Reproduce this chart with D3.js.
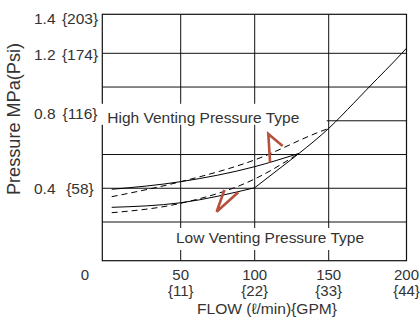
<!DOCTYPE html>
<html><head><meta charset="utf-8">
<script src="https://cdn.jsdelivr.net/npm/d3@7"></script>
<style>body{margin:0;background:#fff}svg{display:block}text{font-family:"Liberation Sans",Arial,sans-serif;fill:#333}</style>
</head><body><svg id="c" width="420" height="320"></svg>
<script>
// ---- data ----
const flowTicks = [50, 100, 150, 200];
const flowLabels = ["50", "100", "150", "200"];
const gpmLabels = ["{11}", "{22}", "{33}", "{44}"];
const gridFlow = [50, 100, 150];
const gridPressure = [0.2, 0.4, 0.6, 0.8, 1.0, 1.2];
const mpaValues = [1.4, 1.2, 0.8, 0.4];
const mpaLabels = ["1.4", "1.2", "0.8", "0.4"];
const psiLabels = ["{203}", "{174}", "{116}", "{58}"];
const highSolid = [[6, 0.394], [50, 0.439], [100, 0.528], [130, 0.607]];
const highDashed = [[6, 0.350], [50, 0.439], [100, 0.568], [144, 0.735], [150, 0.755]];
const lowSolid = [[6, 0.287], [50, 0.314], [100, 0.403]];
const lowDashed = [[6, 0.255], [50, 0.311], [100, 0.455], [130, 0.607]];
const mainCurve = [[100, 0.403], [115, 0.505], [130, 0.607], [150, 0.755], [166, 0.904], [176, 1.0], [197, 1.2], [200, 1.226]];
const arrowHigh = [[118.9, 0.650], [109.2, 0.722], [110.4, 0.552]];
const arrowLow = [[88.9, 0.376], [74.3, 0.261], [79.5, 0.390]];

// ---- drawing ----
const svg = d3.select("#c");
const x = d3.scaleLinear().domain([0, 50, 150, 200]).range([102.3, 180.7, 328.7, 406.5]);
const y = d3.scaleLinear().domain([0, 0.2, 1.2, 1.4]).range([260.7, 222, 53.3, 14.3]);
const [x0, x1] = [x(0), x(200)];
const [y0, y1] = [y(0), y(1.4)];

const g = svg.append("g");
g.selectAll(".vg").data(gridFlow).join("line")
  .attr("x1", d => x(d)).attr("x2", d => x(d)).attr("y1", y1).attr("y2", y0)
  .attr("stroke", "#111").attr("stroke-width", 1);
g.selectAll(".hg").data(gridPressure).join("line")
  .attr("x1", x0).attr("x2", x1).attr("y1", d => y(d)).attr("y2", d => y(d))
  .attr("stroke", "#111").attr("stroke-width", 1);
g.append("rect").attr("x", x0).attr("y", y1).attr("width", x1 - x0).attr("height", y0 - y1)
  .attr("fill", "none").attr("stroke", "#111").attr("stroke-width", 1.2);

const line = d3.line().x(d => x(d[0])).y(d => y(d[1])).curve(d3.curveMonotoneX);
const straight = d3.line().x(d => x(d[0])).y(d => y(d[1]));
const series = [
  {d: highSolid, dash: null}, {d: highDashed, dash: "6,4"},
  {d: lowSolid, dash: null}, {d: lowDashed, dash: "6,4"},
  {d: mainCurve, dash: null}
];
svg.selectAll(".s").data(series).join("path")
  .attr("d", s => line(s.d)).attr("fill", "none").attr("stroke", "#000")
  .attr("stroke-width", 1).attr("stroke-dasharray", s => s.dash);

// label boxes
svg.append("rect").attr("x", x0 - 1.5).attr("y", y(0.8) - 17).attr("width", x(150) - 2 - (x0 - 1.5)).attr("height", 21).attr("fill", "#fff");
svg.append("text").attr("x", x0 + 5).attr("y", y(0.8) + 1.8).attr("font-size", 15)
  .attr("textLength", 192).attr("lengthAdjust", "spacingAndGlyphs").text("High Venting Pressure Type");
svg.append("rect").attr("x", 174).attr("y", 228).attr("width", 192).attr("height", 22).attr("fill", "#fff");
svg.append("text").attr("x", 176).attr("y", 243.3).attr("font-size", 15)
  .attr("textLength", 188).attr("lengthAdjust", "spacingAndGlyphs").text("Low Venting Pressure Type");

// arrows
[arrowHigh, arrowLow].forEach(a => svg.append("path").attr("d", straight(a))
  .attr("fill", "none").attr("stroke", "#b5513c").attr("stroke-width", 2.6).attr("stroke-linejoin", "miter"));

// y labels
const nudge = {1.4: 9.3, 1.2: 6.7, 0.8: -1.7, 0.4: 5.3};
mpaValues.forEach((v, i) => {
  svg.append("text").attr("x", 34).attr("y", y(v) + nudge[v]).attr("font-size", 15.5).text(mpaLabels[i]);
  svg.append("text").attr("x", 80).attr("y", y(v) + nudge[v]).attr("font-size", 15.5).attr("text-anchor", "middle").text(psiLabels[i]);
});
// x labels
flowTicks.forEach((v, i) => {
  svg.append("text").attr("x", x(v)).attr("y", 279.5).attr("font-size", 15).attr("text-anchor", "middle").text(flowLabels[i]);
  svg.append("text").attr("x", x(v)).attr("y", 296.3).attr("font-size", 15).attr("text-anchor", "middle").text(gpmLabels[i]);
});
svg.append("text").attr("x", 85).attr("y", 279.5).attr("font-size", 15).attr("text-anchor", "middle").text("0");
svg.append("text").attr("x", 197).attr("y", 314).attr("font-size", 15)
  .attr("textLength", 140).attr("lengthAdjust", "spacingAndGlyphs").text("FLOW (ℓ/min){GPM}");
svg.append("text").attr("transform", "translate(20,195) rotate(-90)").attr("font-size", 18)
  .attr("textLength", 152).attr("lengthAdjust", "spacingAndGlyphs").text("Pressure MPa(Psi)");
</script></body></html>
